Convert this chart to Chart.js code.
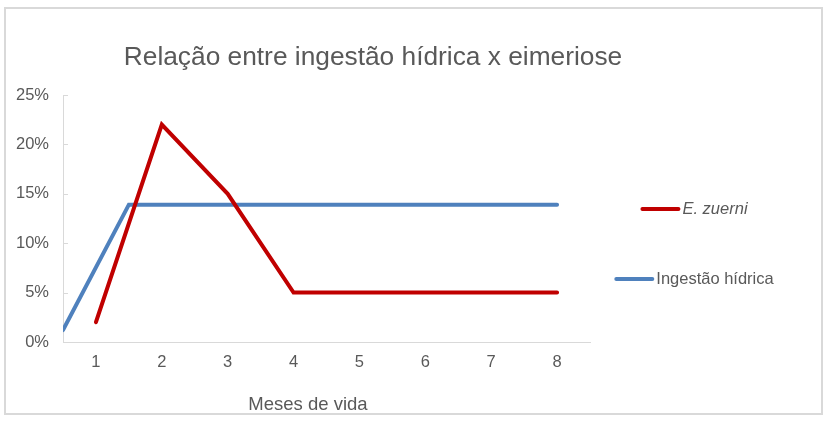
<!DOCTYPE html>
<html>
<head>
<meta charset="utf-8">
<script src="https://cdn.jsdelivr.net/npm/chart.js@4.4.0/dist/chart.umd.min.js"></script>
<style>
  html, body { margin: 0; padding: 0; background: #fff; }
  #box { position: absolute; left: 4px; top: 7px; width: 815px; height: 404px; border: 2px solid #d9d9d9; }
  #box canvas { display: block; }
</style>
</head>
<body>
<div id="box"><canvas id="chart" width="815" height="404"></canvas></div>
<script>
const chartTitle = 'Relação entre ingestão hídrica x eimeriose';
const xAxisTitle = 'Meses de vida';

// months on the category axis
const months = [1, 2, 3, 4, 5, 6, 7, 8];

// E. zuerni (%)
const zuerniLabel = 'E. zuerni';
const zuerniValues = [2, 22, 15, 5, 5, 5, 5, 5];

// Ingestão hídrica (%), this series sits between the month ticks
const waterLabel = 'Ingestão hídrica';
const waterMonths = [0.5, 1.5, 8];
const waterValues = [1.2, 13.9, 13.9];

const yTicks = [0, 5, 10, 15, 20, 25];

const FONT = '"Liberation Sans", Arial, sans-serif';
const GREY = '#595959';
const AXIS = '#d9d9d9';

// title, axis title, legend and the small inner y ticks
const extras = {
    id: 'extras',
    afterDraw(chart) {
        const ctx = chart.ctx;
        const area = chart.chartArea;
        const yScale = chart.scales.y;
        ctx.save();

        // small tick marks inside the y axis
        ctx.strokeStyle = AXIS;
        ctx.lineWidth = 1;
        yScale.ticks.forEach(t => {
            const py = Math.round(yScale.getPixelForValue(t.value)) + 0.5;
            ctx.beginPath();
            ctx.moveTo(area.left, py);
            ctx.lineTo(area.left + 5, py);
            ctx.stroke();
        });

        ctx.fillStyle = GREY;
        ctx.textAlign = 'center';
        ctx.textBaseline = 'alphabetic';
        ctx.font = '26.3px ' + FONT;
        ctx.fillText(chartTitle, area.left + 310, 56);

        ctx.font = '18.5px ' + FONT;
        ctx.fillText(xAxisTitle, area.left + 245, 401);

        // legend
        const centerX = 688;
        const rows = [200, 270];
        chart.data.datasets.forEach((ds, i) => {
            ctx.font = (ds.legendItalic ? 'italic ' : '') + '16.5px ' + FONT;
            const tw = ctx.measureText(ds.label).width;
            const x0 = centerX - (40 + 2 + tw) / 2;
            const y = rows[i];
            ctx.strokeStyle = ds.borderColor;
            ctx.lineWidth = 4;
            ctx.lineCap = 'round';
            ctx.beginPath();
            ctx.moveTo(x0 + 2, y);
            ctx.lineTo(x0 + 38, y);
            ctx.stroke();
            ctx.fillStyle = GREY;
            ctx.textAlign = 'left';
            ctx.textBaseline = 'middle';
            ctx.fillText(ds.label, x0 + 42, y);
        });
        ctx.restore();
    }
};

new Chart(document.getElementById('chart'), {
    type: 'line',
    data: {
        datasets: [{
            label: zuerniLabel,
            legendItalic: true,
            data: months.map((m, i) => ({ x: m, y: zuerniValues[i] })),
            borderColor: '#C00000',
            backgroundColor: '#C00000',
            borderWidth: 4,
            borderCapStyle: 'round',
            pointRadius: 0,
            tension: 0
        }, {
            label: waterLabel,
            data: waterMonths.map((m, i) => ({ x: m, y: waterValues[i] })),
            borderColor: '#4F81BD',
            backgroundColor: '#4F81BD',
            borderWidth: 4,
            borderCapStyle: 'round',
            pointRadius: 0,
            tension: 0
        }]
    },
    options: {
        responsive: false,
        animation: false,
        layout: {
            padding: { top: 86, left: 10, right: 231, bottom: 40 }
        },
        scales: {
            x: {
                type: 'linear',
                min: 0.5,
                max: 8.5,
                afterBuildTicks: (scale) => { scale.ticks = months.map(v => ({ value: v })); },
                afterFit: (scale) => { scale.height = 31; },
                grid: { display: false, drawTicks: false },
                border: { color: AXIS, width: 1 },
                ticks: {
                    color: GREY,
                    font: { family: FONT, size: 16.5 },
                    padding: 11,
                    callback: (v) => String(v)
                }
            },
            y: {
                min: 0,
                max: 25,
                afterBuildTicks: (scale) => { scale.ticks = yTicks.map(v => ({ value: v })); },
                afterFit: (scale) => { scale.width = 47; },
                grid: { display: false, drawTicks: false },
                border: { color: AXIS, width: 1 },
                ticks: {
                    color: GREY,
                    font: { family: FONT, size: 16.5 },
                    padding: 14,
                    callback: (v) => v + '%'
                }
            }
        },
        plugins: {
            legend: { display: false },
            title: { display: false },
            tooltip: { enabled: false }
        }
    },
    plugins: [extras]
});
</script>
</body>
</html>
